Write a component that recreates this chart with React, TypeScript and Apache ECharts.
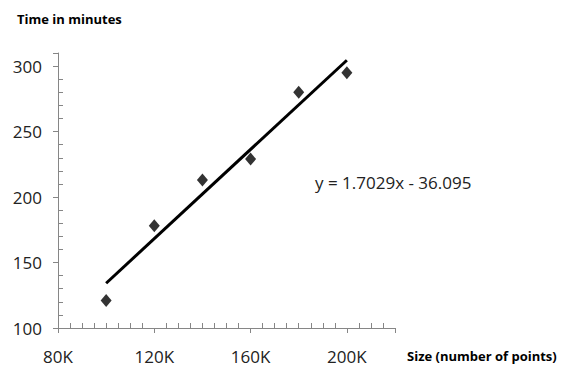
import React, { useEffect, useRef } from "react";
import * as echarts from "echarts";

const sizesK = [100, 120, 140, 160, 180, 200];
const minutes = [121, 178, 213, 229, 280, 295];
const equationText = "y = 1.7029x - 36.095";
const yTitle = "Time in minutes";
const xTitle = "Size (number of points)";

function regression(xs: number[], ys: number[]) {
  const n = xs.length;
  const mx = xs.reduce((a, b) => a + b, 0) / n;
  const my = ys.reduce((a, b) => a + b, 0) / n;
  let sxy = 0;
  let sxx = 0;
  for (let i = 0; i < n; i++) {
    sxy += (xs[i] - mx) * (ys[i] - my);
    sxx += (xs[i] - mx) * (xs[i] - mx);
  }
  const slope = sxy / sxx;
  return { slope, intercept: my - slope * mx };
}

const FONT = "'Open Sans', 'Noto Sans', sans-serif";

export default function App() {
  const ref = useRef<HTMLDivElement>(null);
  useEffect(() => {
    if (!ref.current) return;
    const chart = echarts.init(ref.current, null, { renderer: "svg" });
    const { slope, intercept } = regression(sizesK, minutes);
    const x0 = sizesK[0];
    const x1 = sizesK[sizesK.length - 1];
    const trend = [
      [x0, slope * x0 + intercept],
      [x1, slope * x1 + intercept],
    ];
    const axisColor = "#868686";
    chart.setOption({
      animation: false,
      grid: { left: 58, top: 53, right: 169, bottom: 39, containLabel: false },
      xAxis: {
        type: "value",
        min: 80,
        max: 220,
        interval: 40,
        axisLine: { onZero: false, lineStyle: { color: axisColor, width: 1 } },
        axisTick: { show: true, length: 5, lineStyle: { color: axisColor } },
        minorTick: { show: true, splitNumber: 8, length: -5, lineStyle: { color: axisColor } },
        splitLine: { show: false },
        axisLabel: {
          color: "#222",
          fontFamily: FONT,
          fontSize: 17,
          margin: 20,
          formatter: (v: number) => (v % 40 === 0 && v <= 200 ? v + "K" : ""),
        },
      },
      yAxis: {
        type: "value",
        min: 100,
        max: 310,
        interval: 50,
        axisLine: { onZero: false, lineStyle: { color: axisColor, width: 1 } },
        axisTick: { show: true, length: 5, lineStyle: { color: axisColor } },
        minorTick: { show: true, splitNumber: 5, length: -5, lineStyle: { color: axisColor } },
        splitLine: { show: false },
        axisLabel: {
          color: "#222",
          fontFamily: FONT,
          fontSize: 17,
          margin: 16,
          formatter: (v: number) => (v % 50 === 0 ? String(v) : ""),
        },
      },
      series: [
        {
          type: "line",
          data: trend,
          symbol: "none",
          lineStyle: { color: "#000", width: 3 },
          z: 2,
        },
        {
          type: "scatter",
          data: sizesK.map((x, i) => [x, minutes[i]]),
          symbol: "diamond",
          symbolSize: [11, 13],
          itemStyle: { color: "#000" },
          z: 3,
        },
      ],
      graphic: [
        {
          type: "text",
          left: 17,
          top: 12,
          style: { text: yTitle, font: `bold 13px ${FONT}`, fill: "#000" },
        },
        {
          type: "text",
          left: 407,
          top: 349,
          style: { text: xTitle, font: `bold 13px ${FONT}`, fill: "#000" },
        },
        {
          type: "text",
          left: 315,
          top: 174,
          style: { text: equationText, font: `17px ${FONT}`, fill: "#222" },
        },
      ],
    });
    return () => chart.dispose();
  }, []);
  return <div ref={ref} style={{ width: 564, height: 367, position: "absolute", left: 0, top: 0 }} />;
}
